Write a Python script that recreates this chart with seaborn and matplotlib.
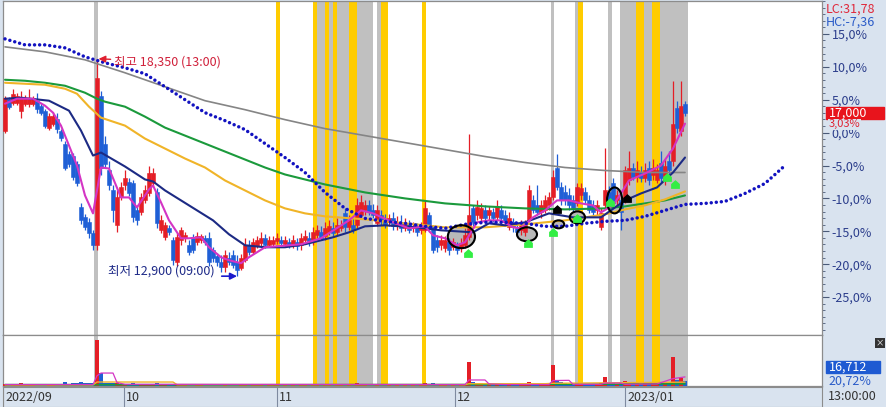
import numpy as np
import matplotlib
matplotlib.use('Agg')
import matplotlib.pyplot as plt
import matplotlib.transforms as mtransforms
from matplotlib.patches import Ellipse, Rectangle
from matplotlib.path import Path
import seaborn as sns

# ---- candles (one bar per half day), prices in won ----
opens = [
    16550, 17350, 17250, 17250, 17050, 17225, 17225, 17225, 17300, 17175,
    17050, 16625, 16725, 16850, 16550, 16225, 15975, 15925, 15725, 14625,
    14375, 14250, 13975, 13675, 17425, 16225, 15550, 15050, 14175, 14875,
    15175, 15250, 15225, 14550, 14500, 14800, 14975, 15225, 15000, 14050,
    13875, 14100, 13800, 13250, 13800, 13850, 13675, 13850, 13750, 13800,
    13850, 13850, 13550, 13400, 13250, 13125, 13350, 13425, 13250, 13100,
    13300, 13675, 13500, 13650, 13725, 13850, 13675, 13700, 13775, 13800,
    13700, 13750, 13675, 13750, 13675, 13800, 13850, 13800, 13925, 14000,
    13900, 14000, 14100, 14000, 14100, 14475, 14125, 14175, 14175, 14425,
    14550, 14675, 14550, 14225, 14425, 14300, 14250, 14350, 14175, 14250,
    14100, 14200, 14100, 14125, 14050, 14050, 14425, 14125, 13800, 13675,
    13600, 13750, 13625, 13650, 13600, 13675, 13875, 14600, 14425, 14350,
    14550, 14425, 14500, 14375, 14550, 14425, 14125, 14250, 14100, 14050,
    14000, 14300, 14800, 14675, 14500, 14550, 14675, 14875, 15600, 15125,
    15000, 14925, 14800, 14725, 14925, 15000, 14800, 14675, 14550, 14125,
    14675, 15000, 15225, 14800, 14800, 14800, 15300, 15625, 15375, 15500,
    15350, 15600, 15425, 15300, 15750, 15300, 15800, 15800, 17125, 16550,
    17225]
closes = [
    17375, 17150, 17475, 17425, 17375, 17375, 17350, 17350, 17100, 17000,
    16675, 16925, 16925, 16600, 16375, 15625, 15725, 15375, 15225, 14300,
    14125, 13975, 13675, 17875, 15625, 15725, 15175, 14550, 14875, 15125,
    15350, 14975, 14375, 14300, 14875, 15050, 15475, 15475, 14225, 14300,
    14175, 14000, 13300, 13875, 14050, 13925, 13500, 13550, 13900, 13900,
    13750, 13250, 13350, 13250, 13125, 13425, 13250, 13175, 13050, 13350,
    13675, 13500, 13750, 13800, 13850, 13675, 13800, 13800, 13850, 13725,
    13800, 13675, 13800, 13650, 13850, 13900, 13750, 14000, 14050, 13850,
    14100, 14150, 13975, 14175, 14175, 14125, 14300, 14050, 14675, 14750,
    14675, 14500, 14425, 14550, 14300, 14175, 14350, 14150, 14250, 14100,
    14225, 14050, 14150, 14000, 14125, 14600, 14100, 13550, 13625, 13800,
    13800, 13550, 13750, 13550, 13725, 13925, 14425, 14250, 14625, 14600,
    14350, 14550, 14350, 14625, 14350, 14250, 14350, 14125, 14000, 14175,
    14175, 15050, 14550, 14500, 14675, 14800, 14875, 15375, 15125, 14800,
    14800, 14675, 14600, 15125, 15100, 14800, 14550, 14500, 14675, 14475,
    15050, 14800, 14725, 14925, 14500, 15550, 15600, 15375, 15550, 15350,
    15550, 15300, 15600, 15550, 15350, 15675, 15550, 16725, 16625, 17175,
    17000]
highs = [
    17425, 17400, 17600, 17500, 17550, 17450, 17600, 17425, 17500, 17250,
    17100, 17000, 17025, 17000, 16600, 16300, 16050, 16000, 15800, 14725,
    14450, 14350, 14050, 18350, 17550, 16425, 15800, 15175, 15050, 15250,
    15550, 15350, 15300, 14675, 14975, 15175, 15675, 15600, 15100, 14425,
    14250, 14175, 13875, 13975, 14125, 14000, 13800, 13950, 14000, 13950,
    13925, 14000, 13625, 13475, 13425, 13550, 13500, 13550, 13425, 13450,
    13850, 13800, 13850, 13900, 14000, 13950, 13900, 13900, 13975, 13900,
    13900, 13850, 13925, 13850, 13975, 14050, 14000, 14125, 14175, 14150,
    14250, 14300, 14250, 14350, 14300, 14600, 14425, 14350, 14850, 14925,
    14800, 14800, 14700, 14675, 14550, 14450, 14450, 14500, 14400, 14425,
    14350, 14300, 14250, 14225, 14250, 14800, 14500, 14175, 13925, 13925,
    13900, 13850, 13850, 13750, 13850, 14100, 16475, 14675, 14800, 14725,
    14675, 14650, 14600, 14800, 14675, 14550, 14500, 14350, 14250, 14300,
    14300, 15175, 14925, 15175, 14800, 14925, 15000, 15550, 15975, 15250,
    15175, 15100, 14925, 15225, 15225, 15125, 14925, 14800, 14800, 14600,
    16125, 15150, 15350, 15050, 14925, 15675, 16050, 15750, 15800, 15675,
    15750, 15800, 15850, 15725, 16050, 15850, 16050, 17800, 17300, 17800,
    17300]
lows = [
    16500, 17100, 17200, 17200, 16875, 17175, 17150, 17175, 17000, 16950,
    16625, 16575, 16675, 16500, 16300, 15550, 15650, 15300, 15150, 14200,
    14050, 13850, 13550, 13550, 15425, 15600, 15050, 14250, 14000, 14800,
    15050, 14900, 14250, 14175, 14425, 14725, 14900, 15150, 14100, 13975,
    13800, 13925, 13175, 13150, 13675, 13750, 13425, 13475, 13675, 13725,
    13675, 13150, 13250, 13150, 13000, 13000, 13175, 13100, 12900, 13050,
    13250, 13425, 13450, 13600, 13650, 13600, 13625, 13650, 13700, 13650,
    13625, 13600, 13600, 13550, 13550, 13700, 13650, 13675, 13850, 13800,
    13800, 13925, 13900, 13925, 14025, 14000, 14050, 13975, 14100, 14350,
    14425, 14425, 14350, 14150, 14175, 14100, 14150, 14050, 14050, 14000,
    14025, 13975, 14000, 13900, 13950, 14000, 14000, 13475, 13500, 13550,
    13500, 13425, 13550, 13450, 13500, 13600, 13800, 14150, 14300, 14250,
    14250, 14300, 14250, 14300, 14250, 14150, 14050, 14000, 13900, 13925,
    13900, 14250, 14475, 14425, 14350, 14475, 14550, 14800, 15050, 14675,
    14675, 14550, 14500, 14650, 14800, 14700, 14475, 14400, 14425, 14050,
    14600, 14700, 14650, 14675, 14050, 14725, 15175, 15300, 15250, 15250,
    15250, 15175, 15300, 15225, 15250, 15175, 15425, 15675, 16500, 16425,
    16925]
volumes = [
    2100, 1500, 1800, 1400, 2300, 1200, 1600, 1100, 1700, 1300,
    2200, 1500, 1200, 1600, 1800, 3100, 1700, 2600, 2400, 3300,
    2800, 2500, 3000, 40500, 11400, 2600, 2600, 2900, 2400, 2000,
    1900, 1700, 2300, 1800, 1600, 1500, 2100, 1700, 2400, 1500,
    1400, 1300, 2200, 1900, 1500, 1200, 1400, 1300, 1200, 1100,
    1200, 1800, 1300, 1200, 1400, 1500, 1100, 1300, 1600, 1500,
    1700, 1200, 1300, 1100, 1200, 1000, 1100, 1000, 1200, 1000,
    1100, 1000, 1200, 1100, 1300, 1200, 1100, 1500, 1400, 1300,
    1600, 1500, 1300, 1600, 1400, 2200, 1500, 1400, 2800, 2200,
    1600, 1400, 1300, 1700, 1500, 1300, 1200, 1400, 1200, 1300,
    1200, 1300, 1100, 1200, 1100, 2600, 1800, 2500, 1500, 1300,
    1200, 1400, 1200, 1300, 1200, 1800, 21100, 3100, 3000, 2600,
    1900, 1800, 1700, 1900, 1600, 1500, 1700, 1500, 1400, 1500,
    1600, 3600, 2200, 2000, 1800, 1700, 1900, 18500, 4800, 3200,
    2400, 2100, 1900, 2600, 2200, 1900, 1800, 1700, 1600, 2400,
    7900, 2800, 2600, 2200, 3000, 4200, 3600, 2400, 2600, 2200,
    2500, 2400, 2600, 3500, 3100, 3500, 2900, 25500, 5000, 7000,
    4400]

# ---- moving averages (bar index, price) ----
ma_gray_idx = [0, 10, 20, 30, 40, 50, 60, 70, 80, 90, 100, 110, 120, 130, 140, 150, 160, 170]
ma_gray = [18650, 18525, 18325, 18000, 17650, 17300, 17075, 16825, 16600, 16425,
           16250, 16075, 15900, 15750, 15625, 15550, 15500, 15500]
ma_dot_idx = list(range(0, 200, 5))
ma_dot = [18850, 18700, 18700, 18625, 18400, 18250, 18125, 17975, 17650, 17325,
          17000, 16800, 16575, 16225, 15875, 15500, 15000, 14600, 14350, 14275,
          14225, 14150, 14100, 14200, 14250, 14250, 14225, 14150, 14150, 14225,
          14275, 14300, 14400, 14550, 14700, 14725, 14775, 14975, 15225, 15675]
ma_green_idx = [0, 5, 10, 15, 20, 23, 25, 30, 35, 40, 45, 50, 55, 60, 65, 70, 75, 80,
                90, 100, 110, 120, 130, 140, 150, 155, 160, 165, 170]
ma_green = [17825, 17800, 17750, 17675, 17500, 17350, 17275, 17150, 16900, 16625,
            16425, 16225, 16025, 15825, 15625, 15450, 15325, 15200, 15000, 14850,
            14725, 14650, 14600, 14575, 14600, 14650, 14725, 14800, 14925]
ma_orange_idx = [0, 10, 15, 18, 21, 24, 30, 35, 40, 45, 50, 55, 60, 65, 70, 75, 80,
                 90, 100, 110, 120, 130, 140, 150, 155, 160, 165, 170]
ma_orange = [17750, 17700, 17600, 17475, 17150, 16875, 16675, 16350, 16100, 15850,
             15625, 15300, 15050, 14800, 14600, 14475, 14400, 14325, 14225, 14125,
             14125, 14200, 14300, 14450, 14575, 14675, 14825, 15025]
ma_navy_idx = [0, 4, 11, 16, 19, 22, 24, 30, 35, 37, 40, 44, 48, 52, 56, 60, 65, 70,
               75, 82, 86, 90, 95, 103, 109, 117, 121, 125, 130, 136, 142, 149, 155,
               159, 163, 167, 170]
ma_navy = [17350, 17375, 17300, 17050, 16550, 15925, 16000, 15650, 15325, 15275,
           15050, 14800, 14550, 14300, 13950, 13675, 13625, 13625, 13700, 13875,
           14000, 14150, 14175, 14125, 14050, 14000, 14225, 14175, 14250, 14475,
           14375, 14375, 14800, 14975, 15125, 15500, 15875]
ma_pink_idx = [0, 3, 7, 10, 12, 14, 16, 18, 20, 22, 24, 26, 29, 31, 33, 36, 37, 39,
               41, 44, 46, 49, 51, 54, 56, 59, 61, 65, 74, 79, 86, 89, 92, 97, 101,
               105, 107, 110, 113, 115, 118, 121, 124, 127, 129, 132, 135, 138, 141,
               144, 147, 149, 152, 154, 156, 160, 164, 167, 170]
ma_pink = [17225, 17350, 17350, 17175, 17000, 16675, 16175, 15675, 14925, 14475,
           15625, 15600, 14875, 14875, 14625, 15075, 15175, 14750, 14300, 13850,
           13850, 13875, 13625, 13375, 13300, 13225, 13375, 13625, 13700, 13850,
           14300, 14550, 14475, 14250, 14100, 14150, 13925, 13850, 13675, 13750,
           14250, 14300, 14300, 14125, 14100, 14375, 14550, 14800, 14800, 14725,
           14675, 14500, 14675, 14975, 15300, 15475, 15675, 16100, 16725]

# ---- volume moving averages ----
vma5_idx = [0, 22, 23, 24, 27, 28, 30, 115, 116, 120, 121, 125, 136, 137, 141, 142,
            149, 150, 154, 155, 163, 167, 170]
vma5 = [1300, 1300, 9000, 11400, 11400, 3000, 1500, 1300, 5300, 5300, 1800, 1300,
        1300, 4800, 5000, 1500, 1500, 2600, 2600, 1500, 1800, 6500, 8000]
vma20_idx = [0, 22, 23, 42, 43, 115, 116, 135, 137, 170]
vma20 = [1000, 1000, 3500, 3500, 1200, 1200, 2000, 2000, 2400, 3400]
vma60_idx = [0, 60, 120, 170]
vma60 = [1200, 1100, 1300, 1900]

# ---- highlighted bars (bar index ranges) ----
gray_start = [22.25, 78, 93, 136.5, 142.5, 150.75, 153.75]
gray_end = [23.25, 92, 94, 137.25, 143.25, 151.75, 170.75]
yellow_start = [67.75, 77, 80, 82, 86, 94, 104.25, 143.25, 157.75, 161.75]
yellow_end = [68.75, 78, 81, 83, 88, 95.75, 105.25, 144.5, 159.75, 163.75]

# ---- pattern circles and signals ----
circ_x = [114.1, 130.5, 138.4, 143.1, 152.4]
circ_y = [13890, 13950, 14200, 14375, 14800]
circ_w = [6.8, 5.0, 2.8, 3.8, 3.8]
circ_h = [575, 350, 200, 300, 650]
buy_x = [115.75, 130.75, 137, 143, 151.25, 165.5, 167.5]
buy_y = [13475, 13725, 14000, 14350, 14750, 15375, 15200]
sig_x = [138, 155.5]
sig_y = [14575, 14850]

base_price = 16500
pct_ticks = [15, 10, 5, 0, -5, -10, -15, -20, -25]
month_pos = [-0.5, 29.75, 68, 112.5, 155]
month_labels = ['2022/09', '10', '11', '12', '2023/01']

sns.set_style('white')
plt.rcParams['font.family'] = ['Noto Sans CJK KR', 'DejaVu Sans']
plt.rcParams['axes.unicode_minus'] = False

W, H = 886, 407
PANEL = '#D9E3EF'
EDGE = '#8C8C8C'
RED, BLUE = '#E41E26', '#1F5FD6'
fig = plt.figure(figsize=(W / 100, H / 100), dpi=100, facecolor=PANEL)


def fx(px):
    return px / W


def fy(py):
    return 1 - py / H


ax = fig.add_axes([fx(3), fy(335), fx(819), 334 / H])
axv = fig.add_axes([fx(3), fy(386), fx(819), 51 / H])
axd = fig.add_axes([fx(3), fy(407), fx(819), 20 / H])

xlim = (-0.5, 204.25)
o, c, h, l = map(np.array, (opens, closes, highs, lows))
x = np.arange(len(c))
cols = np.where(c >= o, RED, BLUE)

for a in (ax, axv):
    for s, e in zip(gray_start, gray_end):
        a.axvspan(s, e, color='#C0C0C0', lw=0, zorder=0)
    for s, e in zip(yellow_start, yellow_end):
        a.axvspan(s, e, color='#FFCC00', lw=0, zorder=0.5)

# circles fill behind candles
for cx, cy, w, hh in zip(circ_x, circ_y, circ_w, circ_h):
    ax.add_patch(Ellipse((cx, cy), w, hh, facecolor='#B9B9B9', edgecolor='none', zorder=1.5))

# candles
ax.vlines(x, l, h, colors=cols, lw=0.9, zorder=3)
ax.bar(x, np.maximum(np.abs(c - o), 30), bottom=np.minimum(o, c), width=0.8,
       color=cols, edgecolor=cols, lw=0.4, zorder=4)

# moving averages
sns.lineplot(x=ma_gray_idx, y=ma_gray, ax=ax, color='#858585', lw=1.2, zorder=5)
sns.lineplot(x=ma_green_idx, y=ma_green, ax=ax, color='#1B9A3C', lw=1.5, zorder=5)
sns.lineplot(x=ma_orange_idx, y=ma_orange, ax=ax, color='#F0B428', lw=1.5, zorder=5)
sns.lineplot(x=ma_navy_idx, y=ma_navy, ax=ax, color='#1C2A84', lw=1.5, zorder=5)
sns.lineplot(x=ma_pink_idx, y=ma_pink, ax=ax, color='#D435C4', lw=1.5, zorder=5)
ax.plot(ma_dot_idx, ma_dot, color='#1212C0', lw=2.5, linestyle=(0, (0.01, 1.45)),
        dash_capstyle='round', zorder=5)

for cx, cy, w, hh in zip(circ_x, circ_y, circ_w, circ_h):
    ax.add_patch(Ellipse((cx, cy), w, hh, facecolor='none', edgecolor='black', lw=1.5, zorder=6))

house = Path([(-1, -1), (1, -1), (1, 0.1), (0, 1), (-1, 0.1), (-1, -1)],
             [Path.MOVETO] + [Path.LINETO] * 4 + [Path.CLOSEPOLY])
ax.scatter(buy_x, buy_y, marker=house, s=40, color='#33EE44', lw=0, zorder=7)
ax.scatter(sig_x, sig_y, marker=house, s=40, color='black', lw=0, zorder=7)

# high / low annotations
i_hi = int(np.argmax(h))
i_lo = int(np.argmin(l))
ax.annotate(f'최고 {h[i_hi]:,} (13:00)', xy=(i_hi + 0.4, h[i_hi]), xytext=(11, -2),
            textcoords='offset points', ha='left', va='center', color='#D0203A', fontsize=9,
            arrowprops=dict(arrowstyle='-|>', color='#E02030', lw=1, mutation_scale=10,
                            shrinkA=0, shrinkB=0), zorder=8)
ax.annotate('', xy=(i_lo, l[i_lo]), xytext=(-11, 0), textcoords='offset points',
            arrowprops=dict(arrowstyle='-|>', color='#1A1ACD', lw=1.2, mutation_scale=10,
                            shrinkA=0, shrinkB=0), zorder=8)
ax.annotate(f'최저 {l[i_lo]:,} (09:00)', xy=(i_lo, l[i_lo]), xytext=(-16, 4),
            textcoords='offset points', ha='right', va='center', color='#1E2A88',
            fontsize=9, zorder=8)

# main axis scale
ax.set_xlim(*xlim)
ax.set_ylim(11425, 19775)
ax.set_xticks([])
ax.yaxis.tick_right()
ax.set_yticks([base_price * (1 + p / 100) for p in pct_ticks])
ax.set_yticklabels([f'{p:.1f}%'.replace('.', ',') for p in pct_ticks])
ax.set_yticks([base_price * (1 + p / 100) for p in range(-30, 21)], minor=True)
ax.tick_params(axis='y', which='major', right=True, left=False, length=5, width=0.8,
               color='#4A5A78', labelcolor='#2C3E8C', labelsize=9, pad=2)
ax.tick_params(axis='y', which='minor', right=True, left=False, length=2.5, width=0.6,
               color='#4A5A78')
ax.set_facecolor('white')
for sp in ax.spines.values():
    sp.set_color(EDGE)
    sp.set_linewidth(0.9)

# volume panel
axv.bar(x, volumes, width=0.8, color=cols, lw=0, zorder=3)
sns.lineplot(x=vma60_idx, y=vma60, ax=axv, color='#1B9A3C', lw=1.2, zorder=4)
sns.lineplot(x=vma20_idx, y=vma20, ax=axv, color='#F0B428', lw=1.0, zorder=4)
sns.lineplot(x=vma5_idx, y=vma5, ax=axv, color='#D435C4', lw=0.9, zorder=5)
axv.set_xlim(*xlim)
axv.set_ylim(0, 44900)
axv.set_xticks([])
axv.set_yticks([])
axv.set_facecolor('white')
for sp in axv.spines.values():
    sp.set_color(EDGE)
    sp.set_linewidth(0.9)

# date bar
axd.set_facecolor(PANEL)
axd.set_xlim(*xlim)
axd.set_ylim(0, 1)
axd.set_xticks([])
axd.set_yticks([])
axd.vlines(month_pos, 0, 1, color='#7E8AA0', lw=0.8)
for pos, lab in zip(month_pos, month_labels):
    axd.text(pos + 0.6, 0.48, lab, va='center', ha='left', fontsize=9, color='#333333')
for sp in axd.spines.values():
    sp.set_color(EDGE)
    sp.set_linewidth(0.8)

# right panel texts
yx_main = mtransforms.blended_transform_factory(ax.transAxes, ax.transData)
ax.add_patch(Rectangle((1.005, c[-1] - 150), 0.071, 300, transform=yx_main,
                       color='#E8141C', clip_on=False, zorder=9))
ax.text(1.008, c[-1], f'{c[-1]:,}', transform=yx_main, color='white', fontsize=9,
        va='center', ha='left', clip_on=False, zorder=10)
ax.text(1.008, c[-1] - 170, f'{(c[-1] / base_price - 1) * 100:.2f}%'.replace('.', ','),
        transform=yx_main, color='#E02030', fontsize=8, va='top', ha='left', clip_on=False,
        zorder=10, bbox=dict(facecolor=PANEL, edgecolor='none', pad=0.3))

yx_vol = mtransforms.blended_transform_factory(axv.transAxes, axv.transData)
axv.add_patch(Rectangle((1.005, 16712 - 5300), 0.066, 10600, transform=yx_vol,
                        color='#1E5AD2', clip_on=False, zorder=9))
axv.text(1.008, 16712, '16,712', transform=yx_vol, color='white', fontsize=9,
         va='center', ha='left', clip_on=False, zorder=10)
axv.text(1.008, 4200, '20,72%', transform=yx_vol, color='#2A5BC8', fontsize=9,
         va='center', ha='left', clip_on=False)

fig.text(fx(826), fy(9), 'LC:31,78', color='#E0283A', fontsize=9, va='center')
fig.text(fx(826), fy(22), 'HC:-7,36', color='#2A5BC8', fontsize=9, va='center')
fig.text(fx(880), fy(343), '×', color='white', fontsize=6, va='center', ha='center',
         bbox=dict(facecolor='#333333', edgecolor='none', pad=0.6))
fig.text(fx(828), fy(397), '13:00:00', color='#333333', fontsize=9, va='center')

fig.savefig('out.png', dpi=100, facecolor=PANEL)
